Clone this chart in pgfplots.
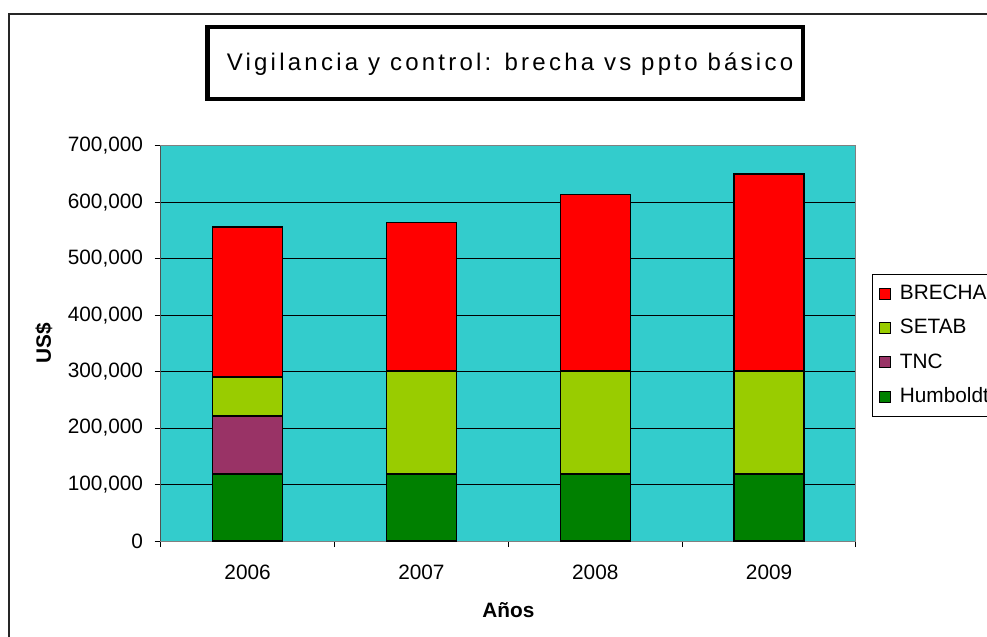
\documentclass[border=0pt]{standalone}
\usepackage{fontspec}
\setmainfont{Liberation Sans}
\newfontfamily\titlefont[LetterSpace=13.5]{Liberation Sans}
\usepackage{pgfplots}
\pgfplotsset{compat=1.18}
\definecolor{bgc}{HTML}{33CCCC}
\definecolor{brecha}{HTML}{FF0000}
\definecolor{setab}{HTML}{99CC00}
\definecolor{tnc}{HTML}{993366}
\definecolor{humb}{HTML}{008000}
\begin{document}
\begin{tikzpicture}
\useasboundingbox (0,0) rectangle (493.5pt,-318.5pt);
\begin{scope}[x=0.5pt,y=-0.5pt]
\clip (0,0) rectangle (987,637);
\draw[line width=0.75pt, black!85] (9,700) -- (9,14) -- (1000,14);
\draw[line width=2.25pt] (207.5,27) rectangle (803,99);
\node[anchor=base, inner sep=0pt, font=\titlefont\fontsize{12}{14}\selectfont] at (510,70) {Vigilancia y control: brecha vs ppto básico};
\end{scope}
\begin{axis}[
  at={(80.35pt,-270.5pt)}, anchor=south west,
  scale only axis, width=347.65pt, height=197.65pt,
  ybar stacked, bar width=35pt,
  xmin=-0.5, xmax=3.5, ymin=0, ymax=700000,
  xtick={-0.5,0.5,1.5,2.5,3.5}, xticklabels={},
  extra x ticks={0,1,2,3}, extra x tick labels={2006,2007,2008,2009},
  extra x tick style={major tick length=0pt, grid=none,
    xticklabel style={yshift=-8.5pt}},
  xtick pos=left, ytick pos=left,
  ytick={0,100000,...,700000},
  scaled y ticks=false,
  yticklabel style={xshift=-2.3pt, /pgf/number format/.cd, fixed, 1000 sep={,}},
  /pgf/number format/assume math mode=true,
  tick align=outside, major tick length=3pt,
  tick style={black, line width=0.5pt},
  ymajorgrids, grid style={black, line width=0.5pt},
  axis background/.style={fill=bgc},
  axis line style={gray, line width=0.5pt},
  tick label style={font=\fontsize{10.4}{12}\selectfont},
  xlabel={\textbf{Años}}, ylabel={\textbf{US\$}},
  label style={font=\fontsize{10.4}{12}\selectfont},
  xlabel style={at={(axis description cs:0.5,-0.1746)}, anchor=center},
  ylabel style={at={(axis description cs:-0.168,0.5)}, anchor=center, rotate=0},
  every axis plot/.append style={draw=black, line width=0.75pt},
  reverse legend,
  legend image code/.code={\draw[#1, draw=black, line width=0.5pt] (0pt,-2.75pt) rectangle (5.5pt,2.75pt);},
  legend style={at={(axis description cs:1.023,0.6754)}, anchor=north west, draw=black, line width=0.5pt,
    font=\fontsize{10.4}{12}\selectfont, row sep=4.4pt, inner sep=3.2pt, cells={anchor=west},
    nodes={inner xsep=4.5pt}},
]
\addplot[fill=humb] coordinates {(0,118500) (1,118500) (2,118500) (3,118500)};
\addplot[fill=tnc] coordinates {(0,102500) (1,0) (2,0) (3,0)};
\addplot[fill=setab] coordinates {(0,69000) (1,182500) (2,182500) (3,182500)};
\addplot[fill=brecha] coordinates {(0,266000) (1,263000) (2,313000) (3,349000)};
\draw[black, line width=0.5pt] (rel axis cs:0,0) -- (rel axis cs:0,1);
\legend{Humboldt,TNC,SETAB,BRECHA}
\end{axis}
\end{tikzpicture}
\end{document}
